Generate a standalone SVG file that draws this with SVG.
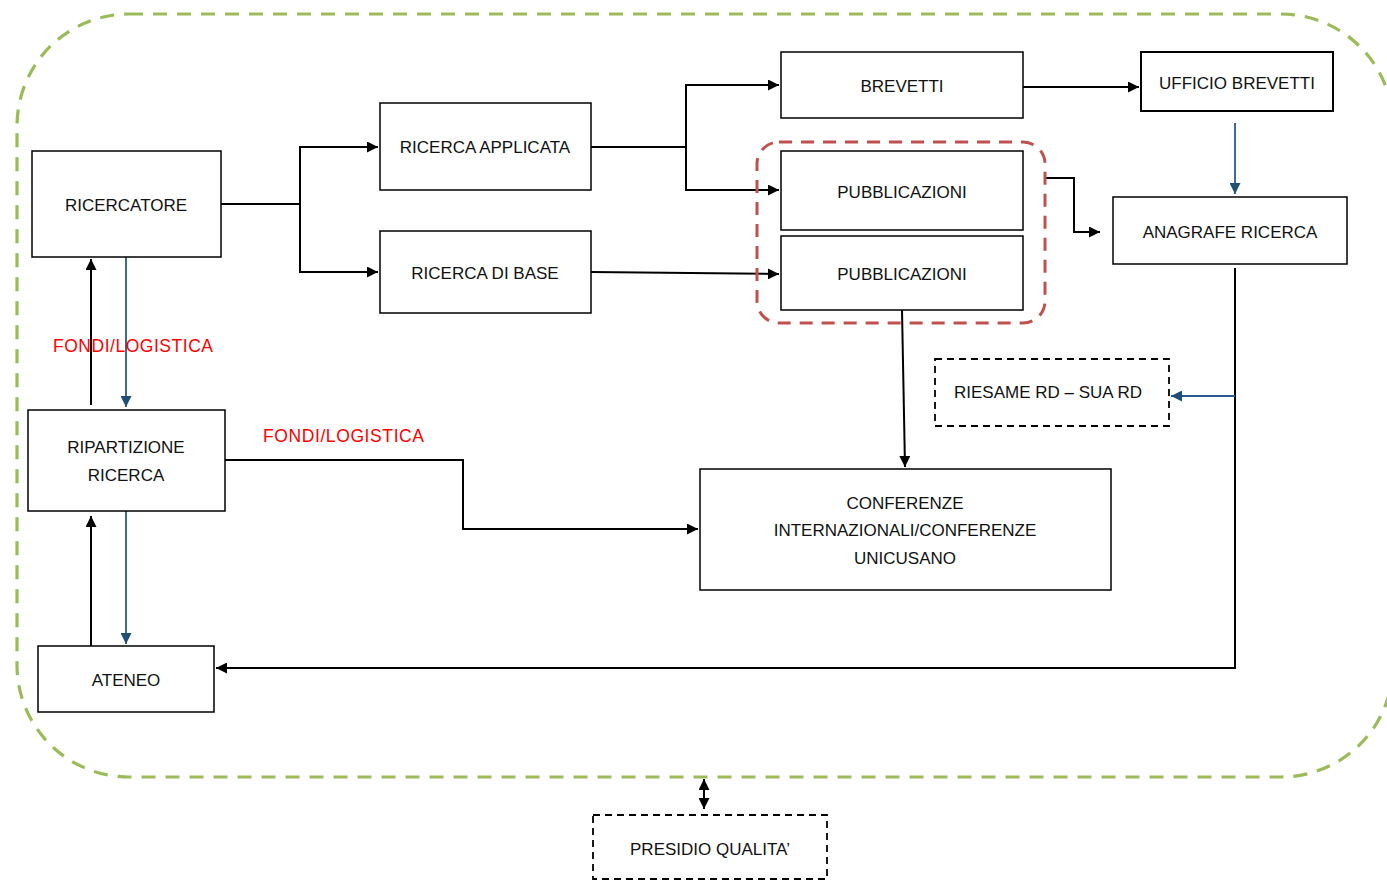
<svg xmlns="http://www.w3.org/2000/svg" width="1387" height="881" viewBox="0 0 1387 881">
<style>
.node{fill:#fff;stroke:#000;stroke-width:1.5}
.dnode{fill:#fff;stroke:#000;stroke-width:1.8;stroke-dasharray:7 5}
.t{font-family:"Liberation Sans",Arial,sans-serif;font-size:17px;fill:#111;text-anchor:middle}
.red{font-family:"Liberation Sans",Arial,sans-serif;font-size:17.5px;fill:#ff0000}
.c{fill:none;stroke:#000;stroke-width:2}
.b{fill:none;stroke:#2a5a92;stroke-width:1.8}
</style>
<defs>
<marker id="ak" viewBox="0 0 10 10" refX="10" refY="5" markerUnits="userSpaceOnUse" markerWidth="11" markerHeight="11" orient="auto"><path d="M0,0 L10,5 L0,10 z" fill="#000"/></marker>
<marker id="ab" viewBox="0 0 10 10" refX="10" refY="5" markerUnits="userSpaceOnUse" markerWidth="11" markerHeight="11" orient="auto"><path d="M0,0 L10,5 L0,10 z" fill="#1f4e79"/></marker>
<marker id="aks" viewBox="0 0 10 10" refX="10" refY="5" markerUnits="userSpaceOnUse" markerWidth="11" markerHeight="11" orient="auto-start-reverse"><path d="M0,0 L10,5 L0,10 z" fill="#000"/></marker>
</defs>
<rect width="1387" height="881" fill="#fff"/>
<g id="boundary">
<rect x="17" y="14" width="1376" height="763" rx="112" ry="112" fill="none" stroke="#9bbb59" stroke-width="3.2" stroke-dasharray="14 10"/>
</g>
<g id="connectors">
<path class="c" d="M221,204 H300 V147 H378" marker-end="url(#ak)"/>
<path class="c" d="M300,204 V272 H378" marker-end="url(#ak)"/>
<path class="c" d="M591,147 H686 V85 H779" marker-end="url(#ak)"/>
<path class="c" d="M686,147 V190 H779" marker-end="url(#ak)"/>
<path class="c" d="M591,272 L779,274" marker-end="url(#ak)"/>
<path class="c" d="M1023,87 H1139" marker-end="url(#ak)"/>
<path class="b" d="M1235,123 V194" marker-end="url(#ab)"/>
<path class="c" d="M1045,178 H1074 V232 H1100" marker-end="url(#ak)"/>
<path class="c" d="M902,310 L905,467" marker-end="url(#ak)"/>
<path class="c" d="M1235,268 V668 H216" marker-end="url(#ak)"/>
<path class="b" d="M1235,396 H1171" marker-end="url(#ab)"/>
<path class="c" d="M225,460 H463 V529 H698" marker-end="url(#ak)"/>
<path class="c" d="M91,405 V259" marker-end="url(#ak)"/>
<path class="b" d="M126,257 V407" marker-end="url(#ab)"/>
<path class="c" d="M91,646 V516" marker-end="url(#ak)"/>
<path class="b" d="M126,511 V644" marker-end="url(#ab)"/>
<path class="c" d="M704,779 V809" marker-start="url(#aks)" marker-end="url(#aks)"/>
</g>
<g id="group-pubblicazioni">
<rect x="757" y="142" width="288" height="181" rx="22" ry="22" fill="none" stroke="#c0504d" stroke-width="3" stroke-dasharray="13 9"/>
</g>
<g id="n-ricercatore"><rect class="node" x="32" y="151" width="189" height="106"/><text class="t" x="126" y="211">RICERCATORE</text></g>
<g id="n-ricerca-applicata"><rect class="node" x="380" y="103" width="211" height="87"/><text class="t" x="485" y="153">RICERCA APPLICATA</text></g>
<g id="n-ricerca-base"><rect class="node" x="380" y="231" width="211" height="82"/><text class="t" x="485" y="279">RICERCA DI BASE</text></g>
<g id="n-brevetti"><rect class="node" x="781" y="52" width="242" height="66"/><text class="t" x="902" y="92">BREVETTI</text></g>
<g id="n-ufficio-brevetti"><rect class="node" style="stroke-width:2" x="1141" y="52" width="192" height="59"/><text class="t" x="1237" y="89">UFFICIO BREVETTI</text></g>
<g id="n-pubblicazioni1"><rect class="node" x="781" y="151" width="242" height="79"/><text class="t" x="902" y="198">PUBBLICAZIONI</text></g>
<g id="n-pubblicazioni2"><rect class="node" x="781" y="236" width="242" height="74"/><text class="t" x="902" y="280">PUBBLICAZIONI</text></g>
<g id="n-anagrafe"><rect class="node" x="1113" y="197" width="234" height="67"/><text class="t" x="1230" y="238">ANAGRAFE RICERCA</text></g>
<g id="n-riesame"><rect class="dnode" x="935" y="359" width="234" height="67"/><text class="t" x="1048" y="398">RIESAME RD – SUA RD</text></g>
<g id="n-conferenze"><rect class="node" x="700" y="469" width="411" height="121"/><text class="t" x="905" y="509">CONFERENZE</text><text class="t" x="905" y="536">INTERNAZIONALI/CONFERENZE</text><text class="t" x="905" y="564">UNICUSANO</text></g>
<g id="n-ripartizione"><rect class="node" x="28" y="410" width="197" height="101"/><text class="t" x="126" y="453">RIPARTIZIONE</text><text class="t" x="126" y="481">RICERCA</text></g>
<g id="n-ateneo"><rect class="node" x="38" y="646" width="176" height="66"/><text class="t" x="126" y="686">ATENEO</text></g>
<g id="n-presidio"><rect class="dnode" x="593" y="815" width="234" height="64"/><text class="t" x="710" y="855">PRESIDIO QUALITA’</text></g>
<g id="labels">
<text class="red" x="53" y="352" textLength="160" lengthAdjust="spacing">FONDI/LOGISTICA</text>
<text class="red" x="263" y="442" textLength="161" lengthAdjust="spacing">FONDI/LOGISTICA</text>
</g>
</svg>
